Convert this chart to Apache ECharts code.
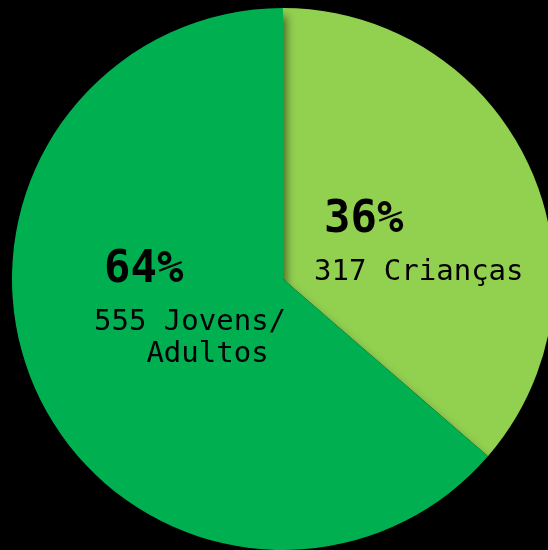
<!DOCTYPE html>
<html>
<head>
<meta charset="utf-8">
<script src="https://cdn.jsdelivr.net/npm/echarts@6/dist/echarts.min.js"></script>
<style>
html, body { margin: 0; padding: 0; background: #000; }
#pieChart { width: 548px; height: 550px; }
</style>
</head>
<body>
<div id="pieChart"></div>
<script>
var names = ['Crianças', 'Jovens/ Adultos'];
var values = [317, 555];
var colors = ['#92D050', '#00B050'];
// canto superior esquerdo de cada rótulo
var labelPos = [[314, 186], [94, 236]];

pieChart('pieChart');

function pieChart(id) {
	var chart = echarts.init(document.getElementById(id));
	var data = [];
	for (var i = 0; i < names.length; i++) {
		var item = {
			name: names[i],
			value: values[i],
			itemStyle: { color: colors[i] }
		};
		if (i == 1) {
			item.itemStyle.shadowBlur = 10;
			item.itemStyle.shadowColor = 'rgba(0, 0, 0, 0.55)';
			item.itemStyle.shadowOffsetX = 3;
			item.itemStyle.shadowOffsetY = 8;
		}
		data.push(item);
	}
	var option = {
		backgroundColor: '#000',
		animation: false,
		series: [{
			type: 'pie',
			center: [283, 279],
			radius: 271,
			startAngle: 90,
			clockwise: true,
			percentPrecision: 0,
			data: data,
			itemStyle: { borderWidth: 0 },
			label: {
				show: true,
				position: 'inside',
				align: 'left',
				formatter: function (p) {
					var n = p.name.replace('/ ', '/\n   ');
					return '{p|' + Math.round(p.percent) + '%}\n{n|' + p.value + ' ' + n + '}';
				},
				rich: {
					p: {
						fontFamily: 'DejaVu Sans Mono',
						fontWeight: 'bold',
						fontSize: 44,
						color: '#000',
						lineHeight: 70,
						padding: [0, 0, 0, 10]
					},
					n: {
						fontFamily: 'DejaVu Sans Mono',
						fontSize: 29,
						color: '#000',
						lineHeight: 32
					}
				}
			},
			labelLine: { show: false },
			emphasis: { scale: false },
			labelLayout: function (params) {
				var pos = labelPos[params.dataIndex];
				return { x: pos[0], y: pos[1], align: 'left', verticalAlign: 'top' };
			}
		}]
	};
	chart.setOption(option);
}
</script>
</body>
</html>
